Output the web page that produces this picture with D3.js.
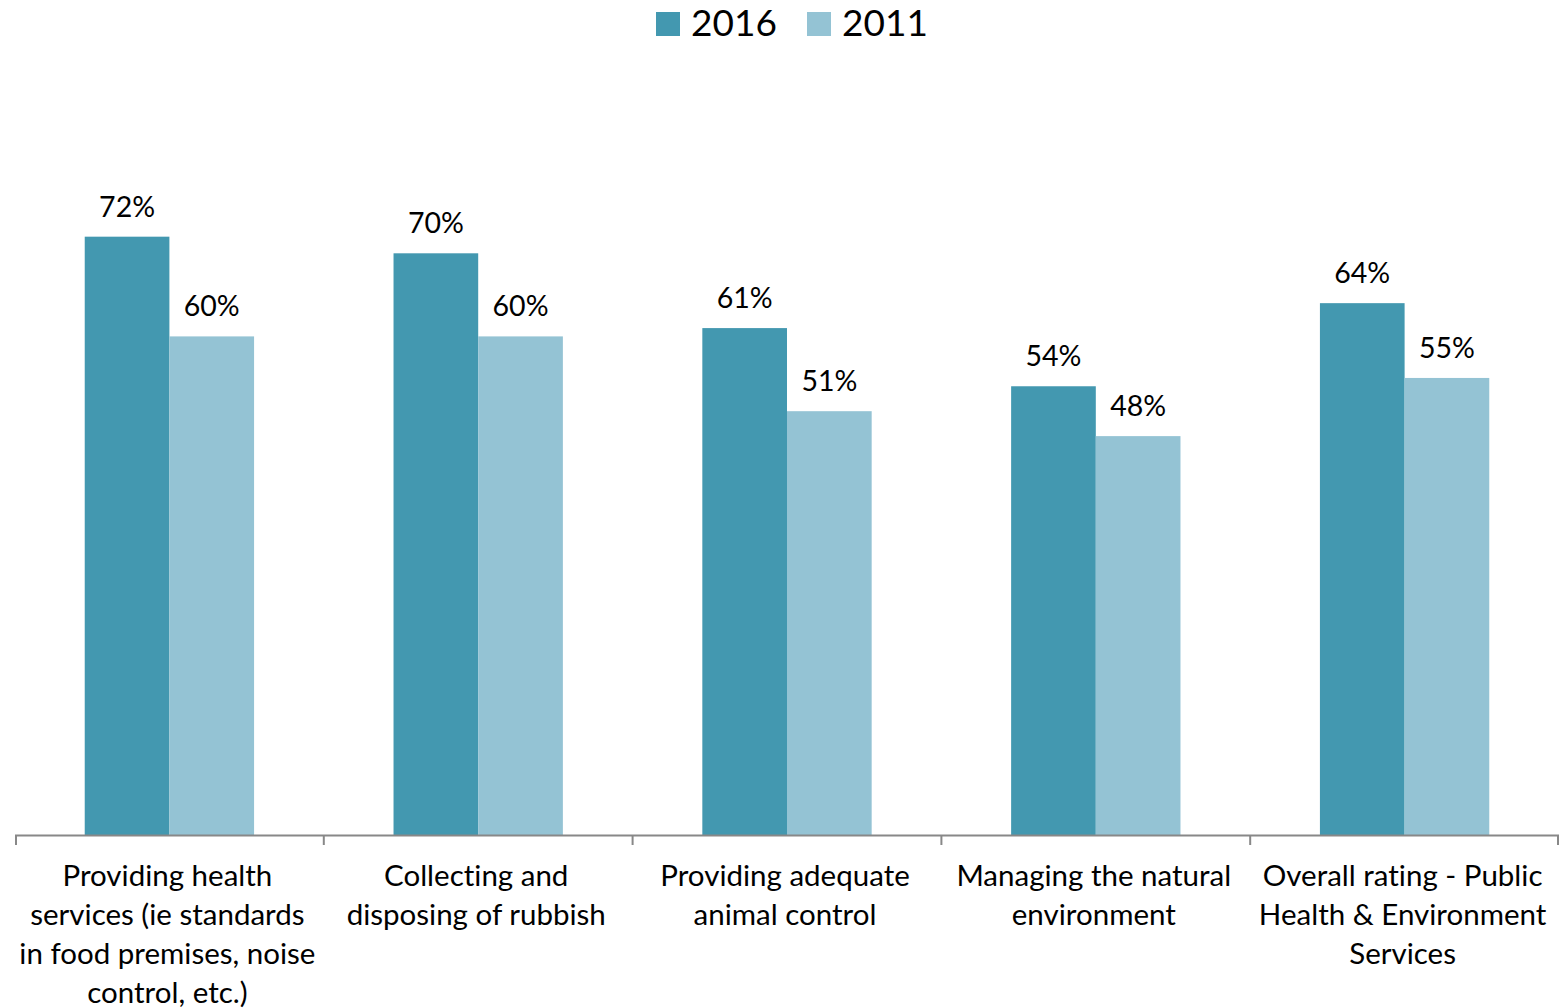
<!DOCTYPE html>
<html>
<head>
<meta charset="utf-8">
<script src="https://cdn.jsdelivr.net/npm/d3@7"></script>
<style>
  html, body { margin: 0; padding: 0; background: #fff; }
  svg { display: block; font-family: Lato, "Open Sans", sans-serif; font-variant-ligatures: none; }
</style>
</head>
<body>
<svg id="chart" width="1561" height="1008"></svg>
<script>
// Service categories (line breaks mark where each label wraps)
const categories = [
  "Providing health\nservices (ie standards\nin food premises, noise\ncontrol, etc.)",
  "Collecting and\ndisposing of rubbish",
  "Providing adequate\nanimal control",
  "Managing the natural\nenvironment",
  "Overall rating - Public\nHealth & Environment\nServices"
];
const seriesNames = ["2016", "2011"];
const values2016 = [72, 70, 61, 54, 64];
const values2011 = [60, 60, 51, 48, 55];
const seriesColors = ["#4398B0", "#94C3D4"];

const series = [values2016, values2011];

const svg = d3.select("#chart");
const margin = { left: 15, right: 2, top: 4, bottom: 173 };
const W = 1561, H = 1008;
const x0 = margin.left, x1 = W - margin.right;
const yBase = H - margin.bottom;

const x = d3.scaleBand()
  .domain(categories)
  .range([x0, x1])
  .paddingInner(0)
  .paddingOuter(0);

const inner = d3.scaleBand()
  .domain(seriesNames)
  .range([0, x.bandwidth()])
  .paddingOuter(0.8235)
  .paddingInner(0);

const y = d3.scaleLinear().domain([0, 100]).range([yBase, margin.top]);

// Bars and value labels
const groups = svg.append("g").selectAll("g")
  .data(categories)
  .join("g")
  .attr("transform", d => `translate(${x(d)},0)`);

seriesNames.forEach((name, si) => {
  groups.append("rect")
    .attr("x", inner(name))
    .attr("width", inner.bandwidth())
    .attr("y", (d, i) => y(series[si][i]))
    .attr("height", (d, i) => yBase - y(series[si][i]))
    .attr("fill", seriesColors[si]);

  groups.append("text")
    .attr("x", inner(name) + inner.bandwidth() / 2)
    .attr("y", (d, i) => y(series[si][i]) - 20)
    .attr("text-anchor", "middle")
    .attr("font-size", 28.5)
    .attr("fill", "#000")
    .text((d, i) => series[si][i] + "%");
});

// Category axis
const gAxis = svg.append("g")
  .attr("transform", `translate(0,${yBase})`);
gAxis.append("line")
  .attr("x1", x0).attr("x2", x1).attr("y1", 0.5).attr("y2", 0.5)
  .attr("stroke", "#888").attr("stroke-width", 2);
const edges = categories.map(c => x(c)).concat([x1]);
gAxis.selectAll("line.edge")
  .data(edges)
  .join("line")
  .attr("class", "edge")
  .attr("x1", d => Math.min(Math.max(d, x0 + 1), x1 - 1))
  .attr("x2", d => Math.min(Math.max(d, x0 + 1), x1 - 1))
  .attr("y1", 0).attr("y2", 10)
  .attr("stroke", "#888").attr("stroke-width", 2);

// Wrapped category labels
const labels = svg.append("g").selectAll("text")
  .data(categories)
  .join("text")
  .attr("text-anchor", "middle")
  .attr("font-size", 29.5)
  .attr("fill", "#000")
  .attr("transform", d => `translate(${x(d) + x.bandwidth() / 2 - 2},${yBase + 51})`);
labels.each(function(d) {
  const t = d3.select(this);
  d.split("\n").forEach((line, i) => {
    t.append("tspan").attr("x", 0).attr("y", i * 39).text(line);
  });
});

// Legend
const legend = svg.append("g").attr("transform", "translate(656,12)");
const legendX = [0, 151];
seriesNames.forEach((name, i) => {
  legend.append("rect")
    .attr("x", legendX[i]).attr("y", 0)
    .attr("width", 24).attr("height", 24)
    .attr("fill", seriesColors[i]);
  legend.append("text")
    .attr("x", legendX[i] + 35).attr("y", 24)
    .attr("font-size", 37)
    .attr("fill", "#000")
    .text(name);
});
</script>
</body>
</html>
